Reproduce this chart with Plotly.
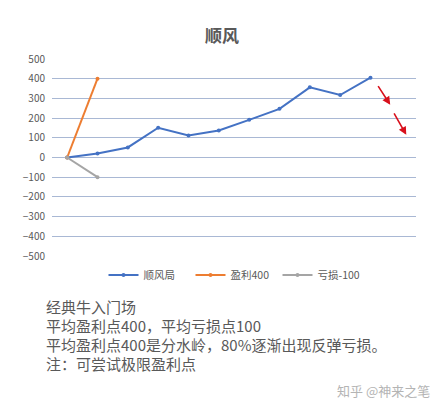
import plotly.graph_objects as go

# Trade progression data (index = step)
steps_main = list(range(11))
shunfeng = [0, 20, 51, 151, 112, 137, 191, 247, 356, 317, 405]
steps_short = [0, 1]
profit_400 = [0, 400]
loss_100 = [0, -100]

y_ticks = [500, 400, 300, 200, 100, 0, -100, -200, -300, -400, -500]

FONT = "Noto Sans CJK SC"
GRID = "#a9b8d4"

fig = go.Figure()
fig.add_trace(go.Scatter(x=steps_main, y=shunfeng, name="顺风局", mode="lines+markers",
                         line=dict(color="#4472c4", width=2), marker=dict(size=4, color="#4472c4")))
fig.add_trace(go.Scatter(x=steps_short, y=profit_400, name="盈利400", mode="lines+markers",
                         line=dict(color="#ed7d31", width=2), marker=dict(size=4, color="#ed7d31")))
fig.add_trace(go.Scatter(x=steps_short, y=loss_100, name="亏损-100", mode="lines+markers",
                         line=dict(color="#a5a5a5", width=2), marker=dict(size=4, color="#a5a5a5")))

annotations = []
# red arrows hinting at a pullback after the peak
for (x0, y0, x1, y1) in [(10.22, 370, 10.65, 268), (10.75, 232, 11.18, 115)]:
    annotations.append(dict(x=x1, y=y1, ax=x0, ay=y0, xref="x", yref="y", axref="x", ayref="y",
                            showarrow=True, arrowhead=2, arrowsize=1, arrowwidth=1.6,
                            arrowcolor="#d8101c", text=""))

notes = ["经典牛入门场",
         "平均盈利点400，平均亏损点100",
         "平均盈利点400是分水岭，80%逐渐出现反弹亏损。",
         "注：可尝试极限盈利点"]
plot_h = 197.0
plot_w = 364.0
for i, line in enumerate(notes):
    ypix = 306 + 19 * i
    annotations.append(dict(x=(44 - 52) / plot_w, y=(256 - ypix) / plot_h, xref="paper", yref="paper",
                            xanchor="left", yanchor="middle", showarrow=False, text=line,
                            font=dict(family=FONT, size=15, color="#595959")))
annotations.append(dict(x=(432 - 52) / plot_w, y=(256 - 390) / plot_h, xref="paper", yref="paper",
                        xanchor="right", yanchor="middle", showarrow=False, text="知乎 @神来之笔",
                        font=dict(family=FONT, size=13, color="#b4b4b4")))

fig.update_layout(
    width=444, height=410,
    margin=dict(l=52, r=28, t=59, b=154),
    paper_bgcolor="white", plot_bgcolor="white",
    title=dict(text="<b>顺风</b>", x=0.5, xanchor="center", y=1 - 36 / 410, yanchor="middle",
               font=dict(family=FONT, size=17, color="#595959")),
    font=dict(family=FONT, color="#595959"),
    xaxis=dict(range=[-0.5, 11.5], showticklabels=False, showgrid=False, zeroline=False,
               showline=False, ticks=""),
    yaxis=dict(range=[-500, 500], tickvals=y_ticks, showgrid=True, gridcolor=GRID, gridwidth=1,
               zeroline=True, zerolinecolor=GRID, zerolinewidth=1, showline=False,
               tickfont=dict(family=FONT, size=10, color="#595959"), ticks="", ticklabelstandoff=6),
    legend=dict(orientation="h", x=0.5, xanchor="center", y=(256 - 275) / plot_h, yanchor="middle",
                font=dict(family=FONT, size=10.5, color="#595959"), itemwidth=30,
                entrywidth=42, entrywidthmode="pixels", tracegroupgap=0),
    showlegend=True,
    annotations=annotations,
)

fig.write_html("out.html")
